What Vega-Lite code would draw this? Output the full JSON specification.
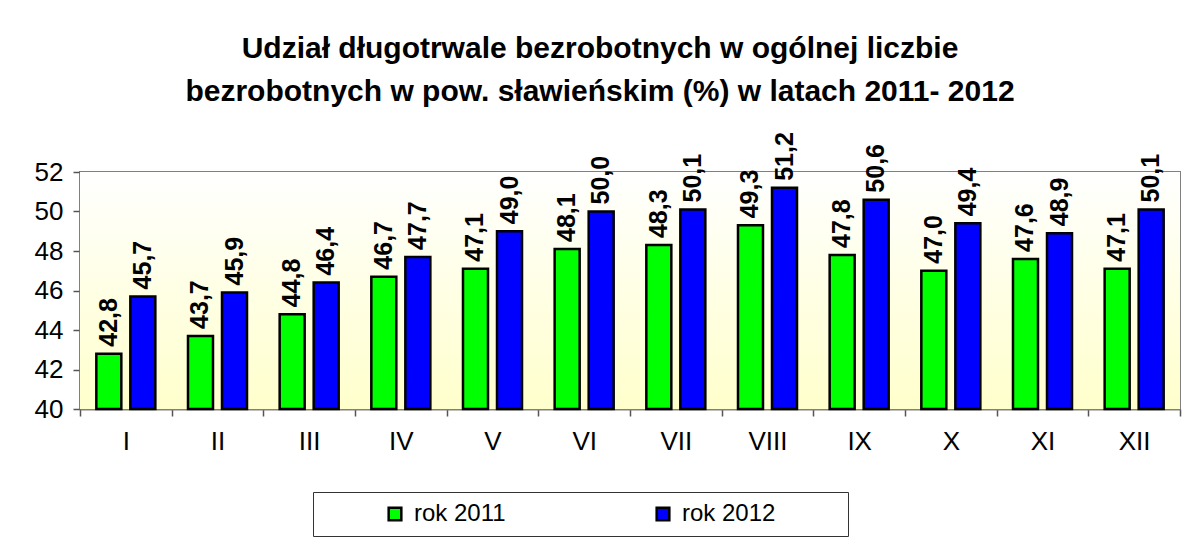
{
  "$schema": "https://vega.github.io/schema/vega-lite/v6.json",
  "width": 1100,
  "height": 237,
  "autosize": "none",
  "padding": {"left": 80, "top": 172, "right": 12, "bottom": 129},
  "background": "white",
  "title": {
    "text": ["Udział długotrwale bezrobotnych w ogólnej liczbie", "bezrobotnych w pow. sławieńskim (%) w latach 2011- 2012"],
    "font": "Liberation Sans",
    "fontSize": 30,
    "fontWeight": "bold",
    "color": "black",
    "lineHeight": 43,
    "anchor": "middle",
    "frame": "group",
    "dx": -30,
    "offset": 25
  },
  "config": {
    "locale": {"number": {"decimal": ",", "thousands": "\u00a0", "grouping": [3], "currency": ["", " zł"]}},
    "view": {"stroke": "#808080", "strokeWidth": 2},
    "axis": {"labelFont": "Liberation Sans", "labelColor": "black", "labelFontSize": 26, "labelOverlap": false, "domainColor": "#808080", "domainWidth": 2, "tickColor": "#555555", "tickWidth": 1.5, "grid": false, "title": null},
    "axisY": {"values": [40, 42, 44, 46, 48, 50, 52], "format": "d", "tickSize": 7, "labelPadding": 10, "labelOverlap": false, "labelSeparation": 0}
  },
  "layer": [
    {
      "data": {"values": [{}]},
      "mark": {
        "type": "rect",
        "color": {"gradient": "linear", "x1": 0, "y1": 0, "x2": 0, "y2": 1, "stops": [{"offset": 0, "color": "#FFFFFF"}, {"offset": 1, "color": "#FFFFCC"}]}
      },
      "encoding": {}
    },
    {
      "data": {"name": "main"},
      "layer": [
        {
          "mark": {"type": "bar", "stroke": "black", "strokeWidth": 2.5},
          "encoding": {
            "x": {"field": "month", "type": "nominal", "sort": null,
              "scale": {"paddingInner": 0, "paddingOuter": 0},
              "axis": {"labelAngle": 0, "tickBand": "extent", "tickSize": 7, "labelPadding": 12}},
            "xOffset": {"field": "series", "type": "nominal", "scale": {"paddingInner": 0.265, "paddingOuter": 0.48}},
            "y": {"field": "value", "type": "quantitative",
              "scale": {"domain": [40, 52], "zero": false, "nice": false},
              "axis": {"values": [40, 42, 44, 46, 48, 50, 52], "tickCount": 7}},
            "y2": {"datum": 40},
            "color": {"field": "series", "type": "nominal",
              "scale": {"domain": ["rok 2011", "rok 2012"], "range": ["#00FF00", "#0000FF"]},
              "legend": {
                "orient": "none", "legendX": 233, "legendY": 320, "direction": "horizontal",
                "title": "\u2800", "titleOrient": "right", "titlePadding": 62, "titleFontSize": 2,
                "fillColor": "white", "strokeColor": "#333333", "padding": 10,
                "symbolType": "square", "symbolSize": 160, "symbolStrokeColor": "black", "symbolStrokeWidth": 2.5, "symbolOpacity": 1,
                "symbolOffset": 60, "labelOffset": 7, "columnPadding": 85,
                "labelFont": "Liberation Sans", "labelFontSize": 24, "labelColor": "black"
              }}
          }
        },
        {
          "mark": {"type": "text", "angle": 270, "align": "left", "baseline": "middle", "dx": 7, "font": "Liberation Sans", "fontSize": 25, "fontWeight": "bold", "color": "black"},
          "encoding": {
            "x": {"field": "month", "type": "nominal", "sort": null},
            "xOffset": {"field": "series", "type": "nominal"},
            "y": {"field": "value", "type": "quantitative", "axis": {"values": [40, 42, 44, 46, 48, 50, 52], "tickCount": 7}},
            "text": {"field": "value", "type": "quantitative", "format": ".1f"}
          }
        }
      ]
    }
  ],
  "datasets": {
    "main": [
      {"month": "I", "series": "rok 2011", "value": 42.8},
      {"month": "I", "series": "rok 2012", "value": 45.7},
      {"month": "II", "series": "rok 2011", "value": 43.7},
      {"month": "II", "series": "rok 2012", "value": 45.9},
      {"month": "III", "series": "rok 2011", "value": 44.8},
      {"month": "III", "series": "rok 2012", "value": 46.4},
      {"month": "IV", "series": "rok 2011", "value": 46.7},
      {"month": "IV", "series": "rok 2012", "value": 47.7},
      {"month": "V", "series": "rok 2011", "value": 47.1},
      {"month": "V", "series": "rok 2012", "value": 49.0},
      {"month": "VI", "series": "rok 2011", "value": 48.1},
      {"month": "VI", "series": "rok 2012", "value": 50.0},
      {"month": "VII", "series": "rok 2011", "value": 48.3},
      {"month": "VII", "series": "rok 2012", "value": 50.1},
      {"month": "VIII", "series": "rok 2011", "value": 49.3},
      {"month": "VIII", "series": "rok 2012", "value": 51.2},
      {"month": "IX", "series": "rok 2011", "value": 47.8},
      {"month": "IX", "series": "rok 2012", "value": 50.6},
      {"month": "X", "series": "rok 2011", "value": 47.0},
      {"month": "X", "series": "rok 2012", "value": 49.4},
      {"month": "XI", "series": "rok 2011", "value": 47.6},
      {"month": "XI", "series": "rok 2012", "value": 48.9},
      {"month": "XII", "series": "rok 2011", "value": 47.1},
      {"month": "XII", "series": "rok 2012", "value": 50.1}
    ]
  }
}
